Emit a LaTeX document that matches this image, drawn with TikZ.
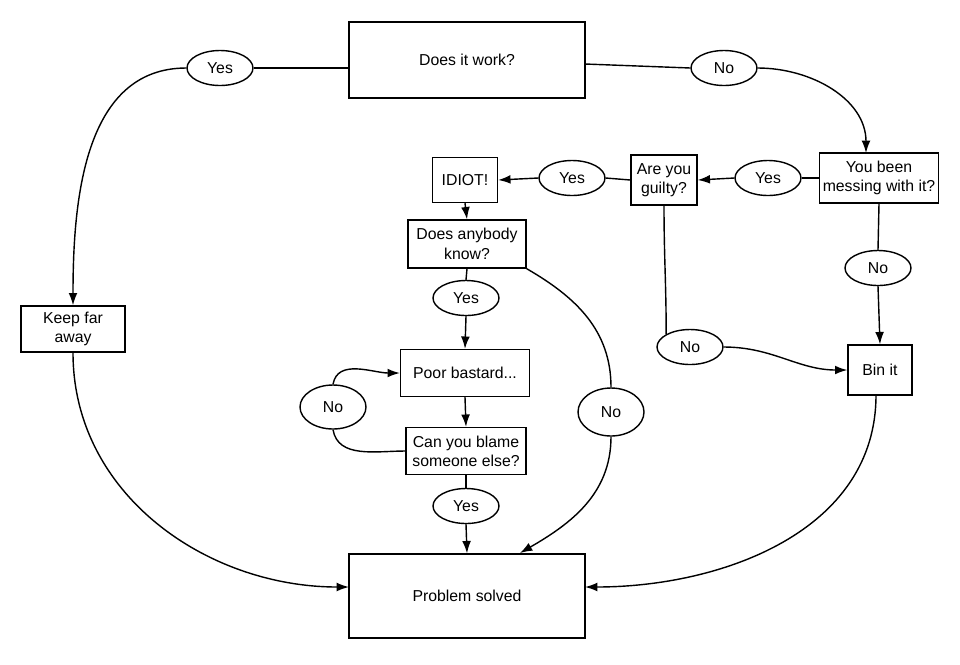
\documentclass[tikz,border=0pt]{standalone}
\usepackage{fontspec}
\setmainfont{Liberation Sans}
\usetikzlibrary{arrows.meta,shapes.geometric}
\tikzset{
  box/.style={draw,thick,fill=white,align=center,inner sep=2pt,font=\fontsize{9}{11}\selectfont},
  answer/.style={draw,thick,ellipse,fill=white,minimum width=1.32cm,minimum height=0.7cm,inner sep=0pt,font=\fontsize{9}{11}\selectfont},
  flow/.style={thick,-{Latex[length=7pt,width=5pt]}},
  link/.style={thick}
}
\begin{document}
\begin{tikzpicture}[x=0.02cm,y=-0.02cm]
   \useasboundingbox (0,0) rectangle (960,664);
   % boxes
   \node[box,minimum width=4.72cm,minimum height=1.52cm] (work) at (467,60) {Does it work?};
   \node[box,minimum width=2.32cm,minimum height=1cm] (mess) at (879,178) {You been\\messing with it?};
   \node[box,minimum width=1.32cm,minimum height=1cm] (guilty) at (664,180) {Are you\\guilty?};
   \node[box,minimum width=1.3cm,minimum height=0.9cm] (idiot) at (465,180) {IDIOT!};
   \node[box,minimum width=2.36cm,minimum height=0.96cm] (know) at (467,244) {Does anybody\\know?};
   \node[box,minimum width=2.58cm,minimum height=0.94cm] (poor) at (465,373) {Poor bastard...};
   \node[box,minimum width=2.4cm,minimum height=0.94cm] (blame) at (466,451) {Can you blame\\someone else?};
   \node[box,minimum width=4.72cm,minimum height=1.68cm] (solved) at (467,596) {Problem solved};
   \node[box,minimum width=2.08cm,minimum height=0.92cm] (keep) at (73,329) {Keep far\\away};
   \node[box,minimum width=1.28cm,minimum height=1cm] (bin) at (880,370) {Bin it};
   % answers
   \node[answer] (yesA) at (220,68) {Yes};
   \node[answer] (noA) at (724,68) {No};
   \node[answer] (yesB) at (768,178) {Yes};
   \node[answer] (yesC) at (572,178) {Yes};
   \node[answer] (noB) at (878,268) {No};
   \node[answer] (yesD) at (466,298) {Yes};
   \node[answer,minimum height=0.88cm] (noC) at (333,407) {No};
   \node[answer] (yesE) at (466,506) {Yes};
   \node[answer,minimum height=0.96cm] (noD) at (611,412) {No};
   \node[answer] (noE) at (690,347) {No};
   % connector ends
   \coordinate (workW) at (349,68);
   \coordinate (workE) at (585,64);
   \coordinate (messIn) at (866,153);
   \coordinate (noDIn) at (520,553);
   \coordinate (binOut) at (876,395);
   \coordinate (solvedE) at (585,587);
   \coordinate (solvedW) at (349,587);

   % connectors
   \draw[link] (workW) -- (yesA.east);
   \draw[flow] (yesA.west) to[out=180,in=90] (keep.north);
   \draw[link] (workE) -- (noA.west);
   \draw[flow] (noA.east) to[out=0,in=90] (messIn);
   \draw[link] (mess.west) -- (yesB.east);
   \draw[flow] (yesB.west) -- (guilty.east);
   \draw[link] (guilty.west) -- (yesC.east);
   \draw[flow] (yesC.west) -- (idiot.east);
   \draw[flow] (idiot.south) -- (know.north);
   \draw[link] (know.south) -- (yesD.north);
   \draw[flow] (yesD.south) -- (poor.north);
   \draw[flow] (poor.south) -- (blame.north);
   \draw[link] (blame.west) to[out=180,in=-80] (noC.south);
   \draw[flow] (noC.north) to[out=80,in=180] (poor.west);
   \draw[link] (blame.south) -- (yesE.north);
   \draw[flow] (yesE.south) -- (solved.north);
   \draw[link] (know.south east) to[out=-30,in=90] (noD.north);
   \draw[flow] (noD.south) to[out=-90,in=30] (noDIn);
   \draw[link] (guilty.south) to[out=-90,in=90] (noE.north west);
   \draw[flow] (noE.east) to[out=0,in=180] (bin.west);
   \draw[link] (mess.south) -- (noB.north);
   \draw[flow] (noB.south) -- (bin.north);
   \draw[flow] (binOut) to[out=-90,in=0] (solvedE);
   \draw[flow] (keep.south) to[out=-90,in=180] (solvedW);
\end{tikzpicture}
\end{document}
